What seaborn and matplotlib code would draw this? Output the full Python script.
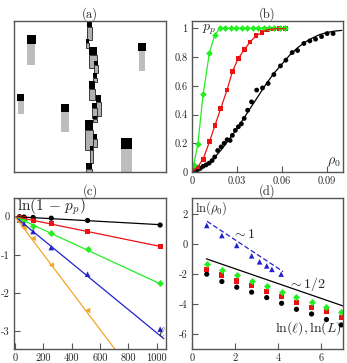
import matplotlib
matplotlib.use("Agg")
import matplotlib.pyplot as plt
from matplotlib.patches import Rectangle
import seaborn as sns

sns.set_style("ticks")
plt.rcParams['font.family'] = ['cmr10', 'DejaVu Serif']
plt.rcParams['mathtext.fontset'] = 'cm'
plt.rcParams['axes.unicode_minus'] = False
plt.rcParams['axes.formatter.use_mathtext'] = True

# ---------------- panel (a): schematic droplets ----------------
# (x_left, y_top, width, black_height, tail_height)
free_x = [12.7, 124.3, 3.3, 47.0, 107.0]
free_y = [14.0, 22.3, 73.3, 83.0, 117.3]
free_w = [9.0, 7.4, 6.7, 8.3, 11.3]
free_h = [9.3, 7.7, 6.7, 8.3, 10.7]
free_t = [20.7, 20.0, 13.3, 19.4, 22.7]

chain_x = [73.3, 72.0, 75.3, 80.0, 78.7, 75.3, 82.0, 77.7, 78.7, 71.0, 78.7, 76.0, 72.0]
chain_y = [0.3, 18.0, 26.3, 39.7, 52.0, 60.3, 74.0, 82.3, 94.7, 99.0, 113.3, 124.7, 142.3]
chain_w = [4.7, 3.3, 7.4, 4.0, 4.6, 5.7, 5.0, 5.0, 4.0, 8.3, 4.6, 3.3, 5.7]
chain_h = [6.0, 4.0, 8.0, 4.6, 5.0, 7.4, 6.7, 5.0, 3.3, 10.0, 4.7, 4.3, 5.7]
chain_t = [12.4, 5.0, 12.7, 8.0, 4.0, 11.0, 14.0, 10.0, 3.0, 20.0, 8.0, 13.0, 3.0]

# ---------------- panel (b) ----------------
green_x = [0.0011, 0.0040, 0.0075, 0.0117, 0.0152, 0.0187, 0.0223, 0.0260, 0.0296,
           0.0333, 0.0369, 0.0405, 0.0442, 0.0478, 0.0515, 0.0551, 0.0587, 0.0624]
green_y = [0.046, 0.196, 0.54, 0.83, 0.95, 1.0, 1.0, 1.0, 1.0,
           1.0, 1.0, 1.0, 1.0, 1.0, 1.0, 1.0, 1.0, 1.0]
red_x = [0.0013, 0.0038, 0.0075, 0.0117, 0.0154, 0.0192, 0.0234, 0.0271, 0.0309,
         0.0349, 0.0388, 0.0428, 0.0468, 0.0505, 0.0545, 0.0585, 0.0624]
red_y = [0.01, 0.035, 0.09, 0.21, 0.325, 0.44, 0.57, 0.70, 0.79,
         0.85, 0.905, 0.947, 0.972, 0.99, 0.995, 0.997, 0.997]
black_x = [0.0018, 0.0035, 0.0055, 0.0075, 0.0095, 0.0115, 0.0135, 0.0152, 0.0172,
           0.0195, 0.0215, 0.0235, 0.0255, 0.0270, 0.0290, 0.0310, 0.0330, 0.0349,
           0.0372, 0.0398, 0.0432, 0.0471, 0.0509, 0.0547, 0.0591, 0.0627, 0.0669,
           0.0705, 0.0747, 0.0787, 0.0825, 0.0865, 0.0902, 0.0942]
black_y = [0.005, 0.012, 0.025, 0.04, 0.05, 0.062, 0.08, 0.105, 0.15,
           0.175, 0.20, 0.225, 0.22, 0.255, 0.29, 0.315, 0.335, 0.373,
           0.43, 0.488, 0.57, 0.585, 0.616, 0.678, 0.738, 0.778, 0.831,
           0.845, 0.894, 0.912, 0.924, 0.942, 0.963, 0.963]
fitb_x = [0, 0.005, 0.01, 0.015, 0.02, 0.025, 0.03, 0.035, 0.04, 0.045, 0.05,
          0.055, 0.06, 0.065, 0.07, 0.075, 0.08, 0.085, 0.09, 0.095, 0.1]
fitb_y = [0, 0.015, 0.05, 0.10, 0.16, 0.23, 0.30, 0.38, 0.46, 0.54, 0.62,
          0.69, 0.75, 0.81, 0.86, 0.90, 0.93, 0.955, 0.97, 0.98, 0.985]
greenline_x = [0.0, 0.0011, 0.0040, 0.0075, 0.0117, 0.0152, 0.0187, 0.0624]
greenline_y = [0.0, 0.046, 0.196, 0.54, 0.83, 0.95, 1.0, 1.0]

# ---------------- panel (c) ----------------
ell = [32, 64, 128, 256, 512, 1024]
c_black = [0.0, -0.01, -0.02, -0.04, -0.10, -0.22]
c_red = [-0.02, -0.04, -0.09, -0.18, -0.39, -0.78]
c_green = [-0.05, -0.10, -0.24, -0.43, -0.84, -1.75]
c_blue = [-0.09, -0.19, -0.39, -0.81, -1.51, -2.95]
ell_orange = [32, 64, 128, 256, 512]
c_orange = [-0.13, -0.29, -0.57, -1.27, -2.46]
cl_x = [[0, 1024], [0, 1024], [0, 1024], [0, 1050], [0, 720]]
cl_y = [[0, -0.21], [0, -0.78], [0, -1.76], [0, -3.20], [0, -3.55]]

# ---------------- panel (d) ----------------
d_x = [0.69, 1.39, 2.08, 2.77, 3.47, 4.16, 4.85, 5.55, 6.24, 6.93]
d_black = [-2.02, -2.51, -2.89, -3.22, -3.58, -3.96, -4.36, -4.67, -5.04, -5.40]
d_red = [-1.73, -2.07, -2.47, -2.80, -3.16, -3.49, -3.89, -4.24, -4.53, -4.91]
d_green = [-1.36, -1.71, -2.07, -2.47, -2.80, -3.18, -3.51, -3.87, -4.20, -4.53]
d_blue_x = [0.69, 1.39, 2.08, 2.77, 3.14, 3.47, 3.71, 4.14]
d_blue = [1.22, 0.55, -0.11, -0.80, -1.20, -1.47, -1.70, -2.02]
dl_blue_x = [0.70, 4.23]
dl_blue_y = [1.50, -1.85]
dl_black_x = [0.67, 7.0]
dl_black_y = [-1.0, -4.13]

GREEN = '#22ee22'
RED = '#ee1111'
BLUE = '#2222cc'
ORANGE = '#f5a623'
SPINE = '#555555'

fig = plt.figure(figsize=(3.47, 3.63), dpi=100)
axa = fig.add_axes([0.0403, 0.526, 0.438, 0.416])
axb = fig.add_axes([0.553, 0.526, 0.435, 0.416])
axc = fig.add_axes([0.0403, 0.0386, 0.438, 0.416])
axd = fig.add_axes([0.553, 0.0386, 0.435, 0.416])

for ax in (axa, axb, axc, axd):
    for s in ax.spines.values():
        s.set_color(SPINE)
        s.set_linewidth(1.0)
    ax.tick_params(direction='in', length=4, width=0.8, color=SPINE,
                   labelsize=7.5, pad=3)

# panel (a)
axa.set_xlim(0, 152)
axa.set_ylim(151, 0)
axa.set_xticks([])
axa.set_yticks([])
for x, y, w, h, t in zip(free_x, free_y, free_w, free_h, free_t):
    axa.add_patch(Rectangle((x + 0.4, y + h), w - 0.8, t, facecolor='#bdbdbd',
                            edgecolor='none'))
    axa.add_patch(Rectangle((x, y), w, h, facecolor='black', edgecolor='none'))
for x, y, w, h, t in zip(chain_x, chain_y, chain_w, chain_h, chain_t):
    axa.add_patch(Rectangle((x, y + h), w, t, facecolor='#b0b0b0',
                            edgecolor='#222222', linewidth=0.6))
for x, y, w, h, t in zip(chain_x, chain_y, chain_w, chain_h, chain_t):
    axa.add_patch(Rectangle((x, y), w, h, facecolor='black', edgecolor='none'))
axa.set_title('(a)', fontsize=9, pad=2)

# panel (b)
sns.lineplot(x=fitb_x, y=fitb_y, ax=axb, color='black', linewidth=0.9)
sns.lineplot(x=greenline_x, y=greenline_y, ax=axb, color=GREEN, linewidth=0.9)
sns.lineplot(x=[0.0] + red_x, y=[0.0] + red_y, ax=axb, color=RED, linewidth=0.9)
sns.scatterplot(x=black_x, y=black_y, ax=axb, color='black', s=12, marker='o',
                edgecolor='none')
sns.scatterplot(x=red_x, y=red_y, ax=axb, color=RED, s=12, marker='s',
                edgecolor='none')
sns.scatterplot(x=green_x, y=green_y, ax=axb, color=GREEN, s=9, marker='D',
                edgecolor=GREEN, linewidth=0.4)
axb.set_xlim(0, 0.1007)
axb.set_ylim(0, 1.05)
axb.set_xticks([0, 0.03, 0.06, 0.09])
axb.set_xticklabels(['0', '0.03', '0.06', '0.09'])
axb.set_yticks([0, 0.2, 0.4, 0.6, 0.8, 1.0])
axb.set_yticklabels(['0', '0.2', '0.4', '0.6', '0.8', '1'])
axb.text(0.0065, 0.99, r'$p_p$', fontsize=10, ha='left', va='center')
axb.text(0.0995, 0.02, r'$\rho_0$', fontsize=10, ha='right', va='bottom')
axb.set_title('(b)', fontsize=9, pad=2)

# panel (c)
line_cols = ['black', RED, GREEN, BLUE, ORANGE]
for lx, ly, col in zip(cl_x, cl_y, line_cols):
    sns.lineplot(x=lx, y=ly, ax=axc, color=col, linewidth=0.9)
sns.scatterplot(x=ell, y=c_black, ax=axc, color='black', s=14, marker='o', edgecolor='none')
sns.scatterplot(x=ell, y=c_red, ax=axc, color=RED, s=14, marker='s', edgecolor='none')
sns.scatterplot(x=ell, y=c_green, ax=axc, color=GREEN, s=10, marker='D',
                edgecolor=GREEN, linewidth=0.4)
sns.scatterplot(x=ell, y=c_blue, ax=axc, color=BLUE, s=16, marker='^', edgecolor='none')
sns.scatterplot(x=ell_orange, y=c_orange, ax=axc, color=ORANGE, s=16, marker='<', edgecolor='none')
axc.set_xlim(-7, 1065)
axc.set_ylim(-3.47, 0.49)
axc.set_xticks([0, 200, 400, 600, 800, 1000])
axc.set_xticklabels(['0', '200', '400', '600', '800', '1000'])
axc.set_yticks([0, -1, -2, -3])
axc.set_yticklabels(['0', '-1', '-2', '-3'])
axc.text(12, 0.26, r'$\ln(1\,-\,p_p)$', fontsize=11, ha='left', va='center')
axc.text(1035, -3.05, r'$\ell$', fontsize=10, ha='center', va='center')
axc.set_title('(c)', fontsize=9, pad=2)

# panel (d)
sns.lineplot(x=dl_black_x, y=dl_black_y, ax=axd, color='black', linewidth=0.9)
sns.lineplot(x=dl_blue_x, y=dl_blue_y, ax=axd, color=BLUE, linewidth=0.9,
             linestyle=(0, (4, 2)))
sns.scatterplot(x=d_x, y=d_black, ax=axd, color='black', s=14, marker='o', edgecolor='none')
sns.scatterplot(x=d_x, y=d_red, ax=axd, color=RED, s=14, marker='s', edgecolor='none')
sns.scatterplot(x=d_x, y=d_green, ax=axd, color=GREEN, s=10, marker='D',
                edgecolor=GREEN, linewidth=0.4)
sns.scatterplot(x=d_blue_x, y=d_blue, ax=axd, color=BLUE, s=16, marker='^', edgecolor='none')
axd.set_xlim(0, 7.0)
axd.set_ylim(-7, 3.05)
axd.set_xticks([0, 2, 4, 6])
axd.set_xticklabels(['0', '2', '4', '6'])
axd.set_yticks([2, 0, -2, -4, -6])
axd.set_yticklabels(['2', '0', '-2', '-4', '-6'])
axd.text(0.15, 2.4, r'$\ln(\rho_0)$', fontsize=9, ha='left', va='center')
axd.text(1.85, 0.6, r'$\sim 1$', fontsize=10, ha='left', va='center')
axd.text(4.45, -2.7, r'$\sim 1/2$', fontsize=10, ha='left', va='center')
axd.text(6.95, -5.6, r'$\ln(\ell),\ln(L)$', fontsize=10, ha='right', va='center')
axd.set_title('(d)', fontsize=9, pad=2)

fig.savefig('out.png', dpi=100)
